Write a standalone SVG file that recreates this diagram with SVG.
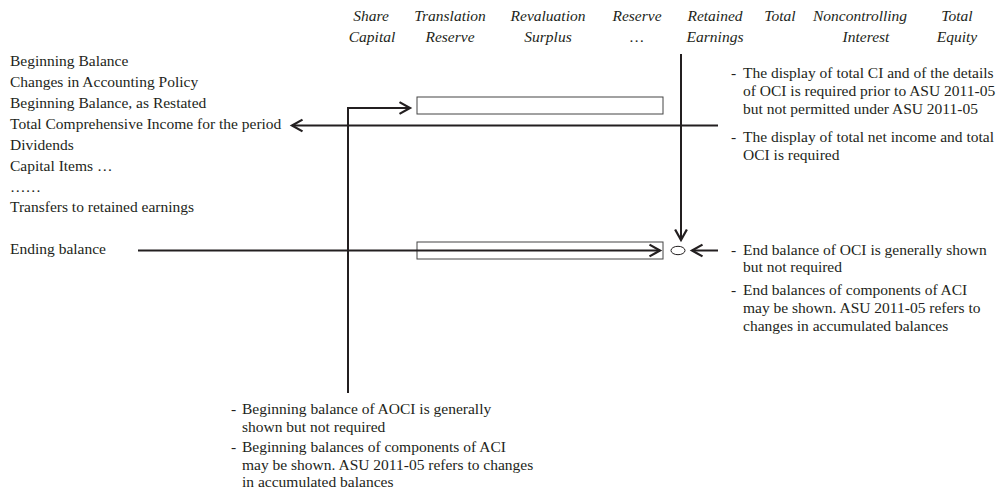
<svg xmlns="http://www.w3.org/2000/svg" width="1001" height="498" viewBox="0 0 1001 498">
<defs>
<marker id="chev" viewBox="0 0 10 10" refX="9" refY="5" markerWidth="14" markerHeight="14" markerUnits="userSpaceOnUse" orient="auto" overflow="visible">
<path d="M1.5,0.8 L9,5 L1.5,9.2" fill="none" stroke="#231f20" stroke-width="1.6"/>
</marker>
</defs>
<style>
text{font-family:"Liberation Serif","Times New Roman",serif;font-size:15.5px;fill:#231f20}
.hd{font-style:italic;text-anchor:middle}
.ln{stroke:#231f20;stroke-width:2;fill:none}
.bx{stroke:#444;stroke-width:1;fill:#fff}
</style>
<rect width="1001" height="498" fill="#fff"/>
<g id="headers">
<text class="hd" x="371" y="21">Share</text><text class="hd" x="372" y="42">Capital</text>
<text class="hd" x="450" y="21">Translation</text><text class="hd" x="450" y="42">Reserve</text>
<text class="hd" x="548" y="21">Revaluation</text><text class="hd" x="548" y="42">Surplus</text>
<text class="hd" x="637" y="21">Reserve</text><text class="hd" x="637" y="42">…</text>
<text class="hd" x="715" y="21">Retained</text><text class="hd" x="715" y="42">Earnings</text>
<text class="hd" x="780" y="21">Total</text>
<text class="hd" x="860" y="21">Noncontrolling</text><text class="hd" x="866" y="42">Interest</text>
<text class="hd" x="957" y="21">Total</text><text class="hd" x="957" y="42">Equity</text>
</g>
<g id="rows">
<text x="10" y="66">Beginning Balance</text>
<text x="10" y="87">Changes in Accounting Policy</text>
<text x="10" y="108">Beginning Balance, as Restated</text>
<text x="10" y="129">Total Comprehensive Income for the period</text>
<text x="10" y="150">Dividends</text>
<text x="10" y="171">Capital Items …</text>
<text x="10" y="192">……</text>
<text x="10" y="212">Transfers to retained earnings</text>
<text x="10" y="254">Ending balance</text>
</g>
<g id="box-begin"><rect class="bx" x="417" y="97" width="246" height="17"/></g>
<g id="box-end"><rect class="bx" x="417" y="242" width="246" height="17"/></g>
<g id="oval"><ellipse cx="678" cy="250.5" rx="7" ry="4.2" fill="#fff" stroke="#231f20" stroke-width="1"/></g>
<g id="connectors">
<path class="ln" d="M348,393 V108 H410" marker-end="url(#chev)"/>
<path class="ln" d="M718,125.5 H292" marker-end="url(#chev)"/>
<path class="ln" d="M138,250.5 H660" marker-end="url(#chev)"/>
<path class="ln" d="M681,54 V240" marker-end="url(#chev)"/>
<path class="ln" d="M718,250.5 H692" marker-end="url(#chev)"/>
</g>
<g id="note-ci">
<text x="731" y="78">-</text>
<text x="743" y="78">The display of total CI and of the details</text>
<text x="743" y="96">of OCI is required prior to ASU 2011-05</text>
<text x="743" y="114">but not permitted under ASU 2011-05</text>
<text x="731" y="142">-</text>
<text x="743" y="142">The  display of total net income and total</text>
<text x="743" y="160">OCI is required</text>
</g>
<g id="note-end">
<text x="731" y="255">-</text>
<text x="743" y="255">End balance of OCI is generally shown</text>
<text x="743" y="272">but not required</text>
<text x="731" y="295">-</text>
<text x="743" y="295">End balances of components of ACI</text>
<text x="743" y="313">may be shown. ASU 2011-05 refers to</text>
<text x="743" y="331">changes in accumulated balances</text>
</g>
<g id="note-begin">
<text x="231" y="414">-</text>
<text x="242" y="414">Beginning balance of AOCI is generally</text>
<text x="242" y="432">shown but not required</text>
<text x="231" y="452">-</text>
<text x="242" y="452">Beginning balances of components of ACI</text>
<text x="242" y="470">may be shown. ASU 2011-05 refers to changes</text>
<text x="242" y="487">in accumulated balances</text>
</g>
</svg>
